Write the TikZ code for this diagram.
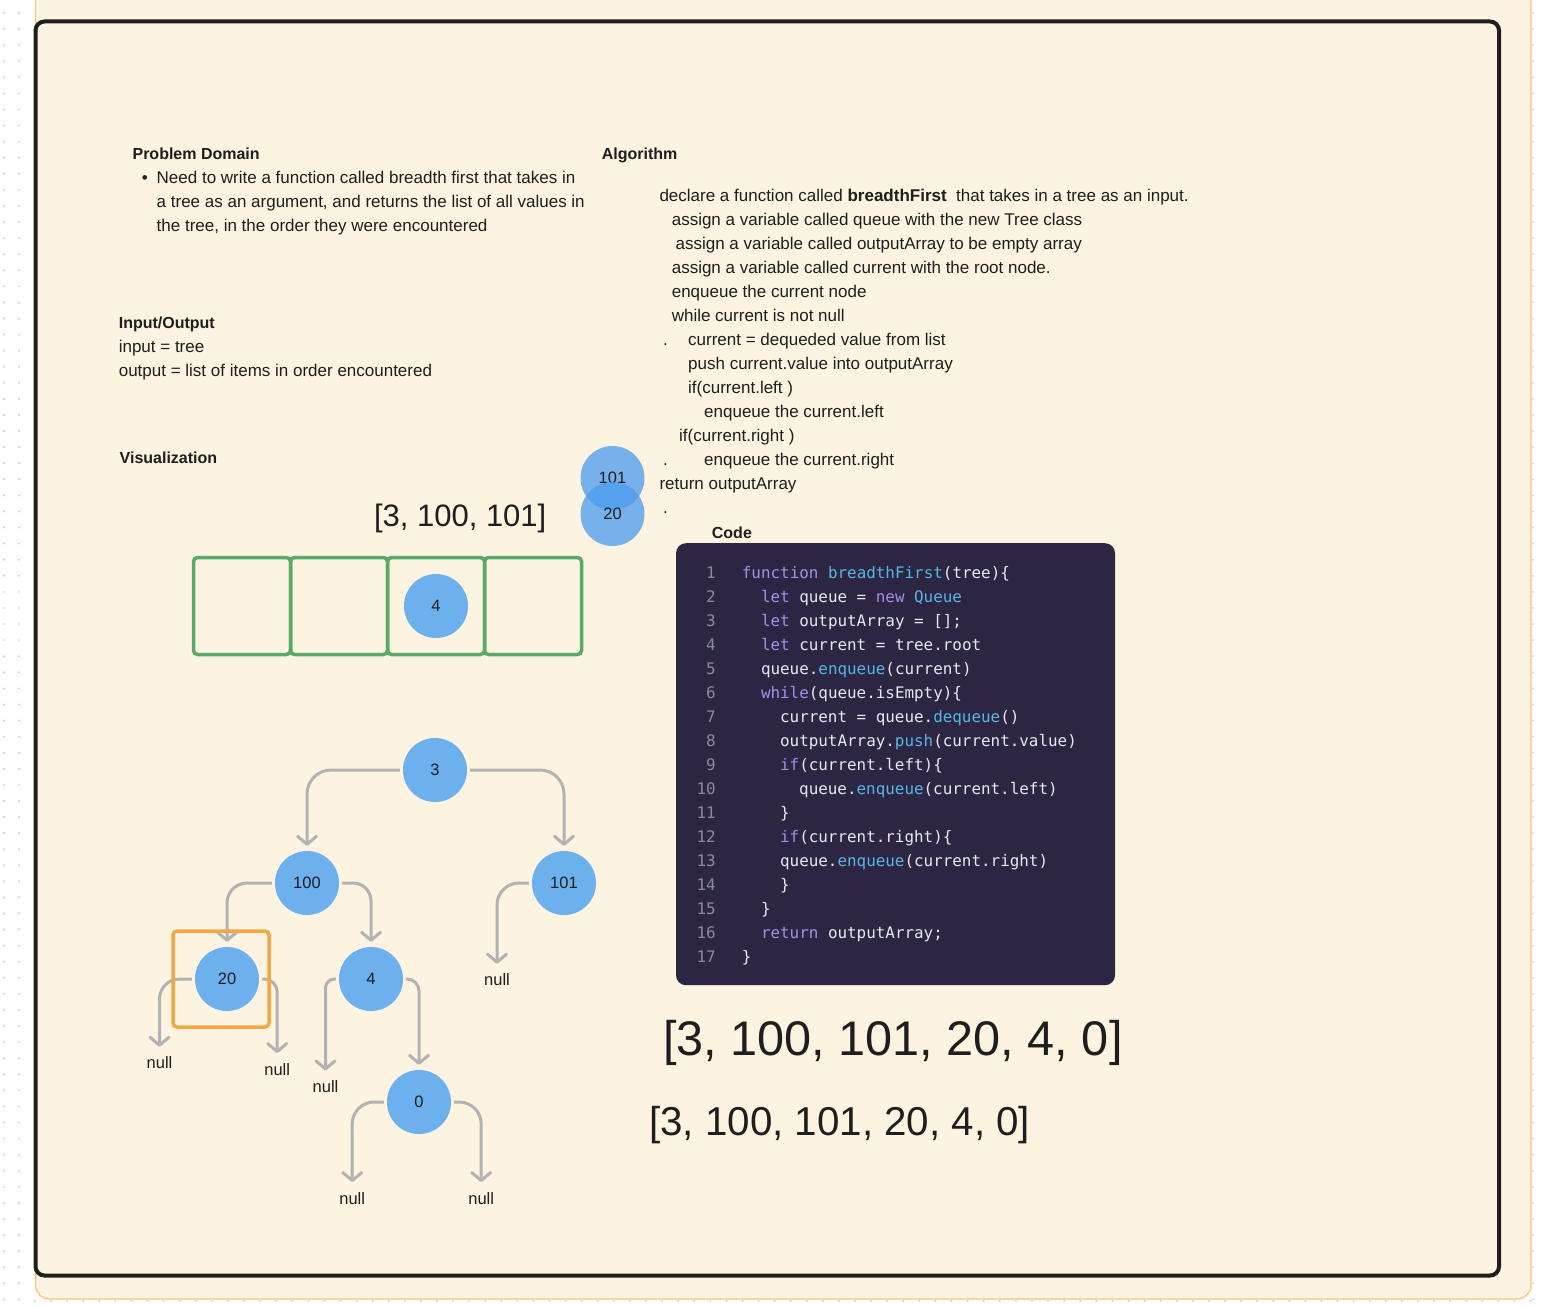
\documentclass[tikz,border=0pt]{standalone}
\usepackage{fontspec}
\setmainfont{Liberation Sans}
\setmonofont{DejaVu Sans Mono}
\usetikzlibrary{positioning,arrows.meta}

\definecolor{ink}{RGB}{30,30,30}
\definecolor{canvascream}{RGB}{252,243,225}
\definecolor{frameorange}{RGB}{246,196,120}
\definecolor{dotgray}{RGB}{205,205,205}
\definecolor{nodeblue}{RGB}{109,176,238}
\definecolor{floatblue}{RGB}{74,156,240}
\definecolor{qgreen}{RGB}{88,170,104}
\definecolor{focusorange}{RGB}{245,168,66}
\definecolor{edgegray}{RGB}{178,178,178}
\definecolor{codebg}{RGB}{44,38,66}
\definecolor{codetxt}{RGB}{232,232,240}
\definecolor{codekw}{RGB}{160,145,235}
\definecolor{codefn}{RGB}{86,182,232}
\definecolor{codenumc}{RGB}{140,138,160}

\newcommand{\cdkw}[1]{\textcolor{codekw}{#1}}
\newcommand{\cdfn}[1]{\textcolor{codefn}{#1}}

\begin{document}
\begin{tikzpicture}[x=1pt, y=-1pt,
	bodytext/.style={anchor=base west, inner sep=0pt, text=ink,
		font=\fontsize{17}{20}\selectfont},
	headtext/.style={bodytext, font=\fontsize{16}{20}\selectfont\bfseries},
	bigtext/.style={bodytext, font=\fontsize{#1}{#1}\selectfont},
	treenode/.style={circle, fill=nodeblue, minimum size=64pt, inner sep=0pt,
		text=ink, font=\fontsize{16.5}{20}\selectfont},
	floatnode/.style={treenode, fill=floatblue, fill opacity=0.75, text opacity=1},
	nulltext/.style={inner sep=0pt, text=ink, font=\fontsize{16.5}{20}\selectfont},
	queuebox/.style={draw=qgreen, line width=3.5pt, rounded corners=4pt,
		minimum width=97pt, minimum height=97pt, inner sep=0pt, outer sep=0pt},
	focusbox/.style={draw=focusorange, line width=3.5pt, rounded corners=4pt,
		minimum size=96pt, inner sep=0pt},
	branch/.style={draw=edgegray, line width=3pt, rounded corners=#1,
		shorten <=3pt, shorten >=5pt,
		-{Straight Barb[length=8pt,width=19pt,round]}},
	tonull/.style={branch=#1, shorten >=10pt},
	codebox/.style={fill=codebg, rounded corners=10pt,
		minimum width=439pt, minimum height=442pt, inner sep=0pt},
	codetext/.style={anchor=base west, inner sep=0pt, text=codetxt,
		font=\fontsize{15.9}{20}\ttfamily},
	codenum/.style={anchor=base east, inner sep=0pt, text=codenumc,
		font=\fontsize{15.9}{20}\ttfamily}
]
	\useasboundingbox (0,0) rectangle (1546,1306);

	% dotted canvas round the board
	\foreach \gy in {0,...,80} {
		\fill[dotgray] (4,{13+16.08*\gy}) circle (1.1pt);
		\fill[dotgray] (19,{13+16.08*\gy}) circle (1.1pt);
	}
	\foreach \gx in {0,...,93}
		\fill[dotgray] ({35+16.08*\gx},1301) circle (1.1pt);
	\fill[canvascream, draw=frameorange, line width=1.2pt, rounded corners=14pt]
		(35.5,-12) rectangle (1531,1299);
	\foreach \gy in {0,...,80}
		\fill[dotgray] (1533,{13+16.08*\gy}) circle (1pt);
	\draw[ink, line width=4pt, rounded corners=9pt] (35.5,21.5) rectangle (1499,1275.5);

	% problem domain and input/output
	\node[headtext] (probhead) at (132.4,159) {Problem Domain};
	\node[bodytext] (bullet) at (141.6,183) {\textbullet};
	\node[bodytext] (prob1) at (156.5,183) {Need to write a function called breadth first that takes in};
	\node[bodytext] (prob2) at (156.5,207) {a tree as an argument, and returns the list of all values in};
	\node[bodytext] (prob3) at (156.5,231) {the tree, in the order they were encountered};
	\node[headtext] (iohead) at (118.6,328.3) {Input/Output};
	\node[bodytext] (io1) at (118.6,352.3) {input = tree};
	\node[bodytext] (io2) at (118.6,376.3) {output = list of items in order encountered};
	\node[headtext] (vishead) at (119.5,463.5) {Visualization};

	% algorithm
	\node[headtext] (alghead) at (601.7,159.3) {Algorithm};
	\foreach \ax/\an/\atext in {
		659.3/0/{declare a function called \textbf{breadthFirst}~ that takes in a tree as an input.},
		671.6/1/{assign a variable called queue with the new Tree class},
		675.4/2/{assign a variable called outputArray to be empty array},
		671.6/3/{assign a variable called current with the root node.},
		671.6/4/{enqueue the current node},
		671.6/5/{while current is not null},
		688/6/{current = dequeded value from list},
		688/7/{push current.value into outputArray},
		688/8/{if(current.left )},
		704/9/{enqueue the current.left},
		679/10/{if(current.right )},
		704/11/{enqueue the current.right},
		659.3/12/{return outputArray}}
		\node[bodytext] (alg\an) at (\ax,{201+24*\an}) {\atext};
	\node[bodytext] (algdot1) at (663,345) {.};
	\node[bodytext] (algdot2) at (663,465) {.};
	\node[bodytext] (algdot3) at (663,513) {.};

	% code panel
	\node[headtext] (codehead) at (711.7,538) {Code};
	\node[codebox] (code) at (895.5,764.2) {};
	\foreach \lnum/\lvl/\codesrc in {
		1/0/{\cdkw{function} \cdfn{breadthFirst}(tree)\{},
		2/2/{\cdkw{let} queue = \cdkw{new} \cdfn{Queue}},
		3/2/{\cdkw{let} outputArray = [];},
		4/2/{\cdkw{let} current = tree.root},
		5/2/{queue.\cdfn{enqueue}(current)},
		6/2/{\cdkw{while}(queue.isEmpty)\{},
		7/4/{current = queue.\cdfn{dequeue}()},
		8/4/{outputArray.\cdfn{push}(current.value)},
		9/4/{\cdkw{if}(current.left)\{},
		10/6/{queue.\cdfn{enqueue}(current.left)},
		11/4/{\}},
		12/4/{\cdkw{if}(current.right)\{},
		13/4/{queue.\cdfn{enqueue}(current.right)},
		14/4/{\}},
		15/2/{\}},
		16/2/{\cdkw{return} outputArray;},
		17/0/{\}}} {
		\node[codenum] (num\lnum) at (716,{578.3+24.04*(\lnum-1)}) {\lnum};
		\node[codetext] (line\lnum) at ({741.7+9.55*\lvl},{578.3+24.04*(\lnum-1)}) {\codesrc};
	}

	% results
	\node[bigtext=31] (partial) at (373.8,526.7) {[3, 100, 101]};
	\node[bigtext=48.6] (result) at (663,1055) {[3, 100, 101, 20, 4, 0]};
	\node[bigtext=40.3] (resultb) at (649,1135) {[3, 100, 101, 20, 4, 0]};

	% queue
	\node[queuebox] (q1) at (242,606) {};
	\node[queuebox, right=0pt of q1] (q2) {};
	\node[queuebox, right=0pt of q2] (q3) {};
	\node[queuebox, right=0pt of q3] (q4) {};
	\node[treenode] (qval) at (q3.center) {4};
	\node[floatnode] (float101) at (612.5,478) {101};
	\node[floatnode] (float20) at (612.5,514) {20};

	% tree
	\node[treenode] (n3) at (435,770) {3};
	\node[treenode] (n100) at (307,883) {100};
	\node[treenode] (n101) at (564,883) {101};
	\node[treenode] (n20) at (227,979) {20};
	\node[treenode] (n4) at (371,979) {4};
	\node[treenode] (n0) at (419,1102) {0};
	\node[nulltext] (nul101) at (497,980) {null};
	\node[nulltext] (nul20a) at (159.5,1063) {null};
	\node[nulltext] (nul20b) at (277.2,1069.3) {null};
	\node[nulltext] (nul4) at (325.5,1086.7) {null};
	\node[nulltext] (nul0a) at (352.2,1198.3) {null};
	\node[nulltext] (nul0b) at (481.2,1198.3) {null};

	\draw[branch=24] (n3.west) -| (n100.north);
	\draw[branch=24] (n3.east) -| (n101.north);
	\draw[branch=20] (n100.west) -| (n20.north);
	\draw[branch=18] (n100.east) -| (n4.north);
	\draw[branch=12] (n4.east) -| (n0.north);
	\draw[tonull=22] (n101.west) -| (nul101.north);
	\draw[tonull=20] (n20.west) -| (nul20a.north);
	\draw[tonull=13] (n20.east) -| (nul20b.north);
	\draw[tonull=9] (n4.west) -| (nul4.north);
	\draw[tonull=22] (n0.west) -| (nul0a.north);
	\draw[tonull=22] (n0.east) -| (nul0b.north);

	\node[focusbox] (focus) at (221,979) {};
\end{tikzpicture}
\end{document}
